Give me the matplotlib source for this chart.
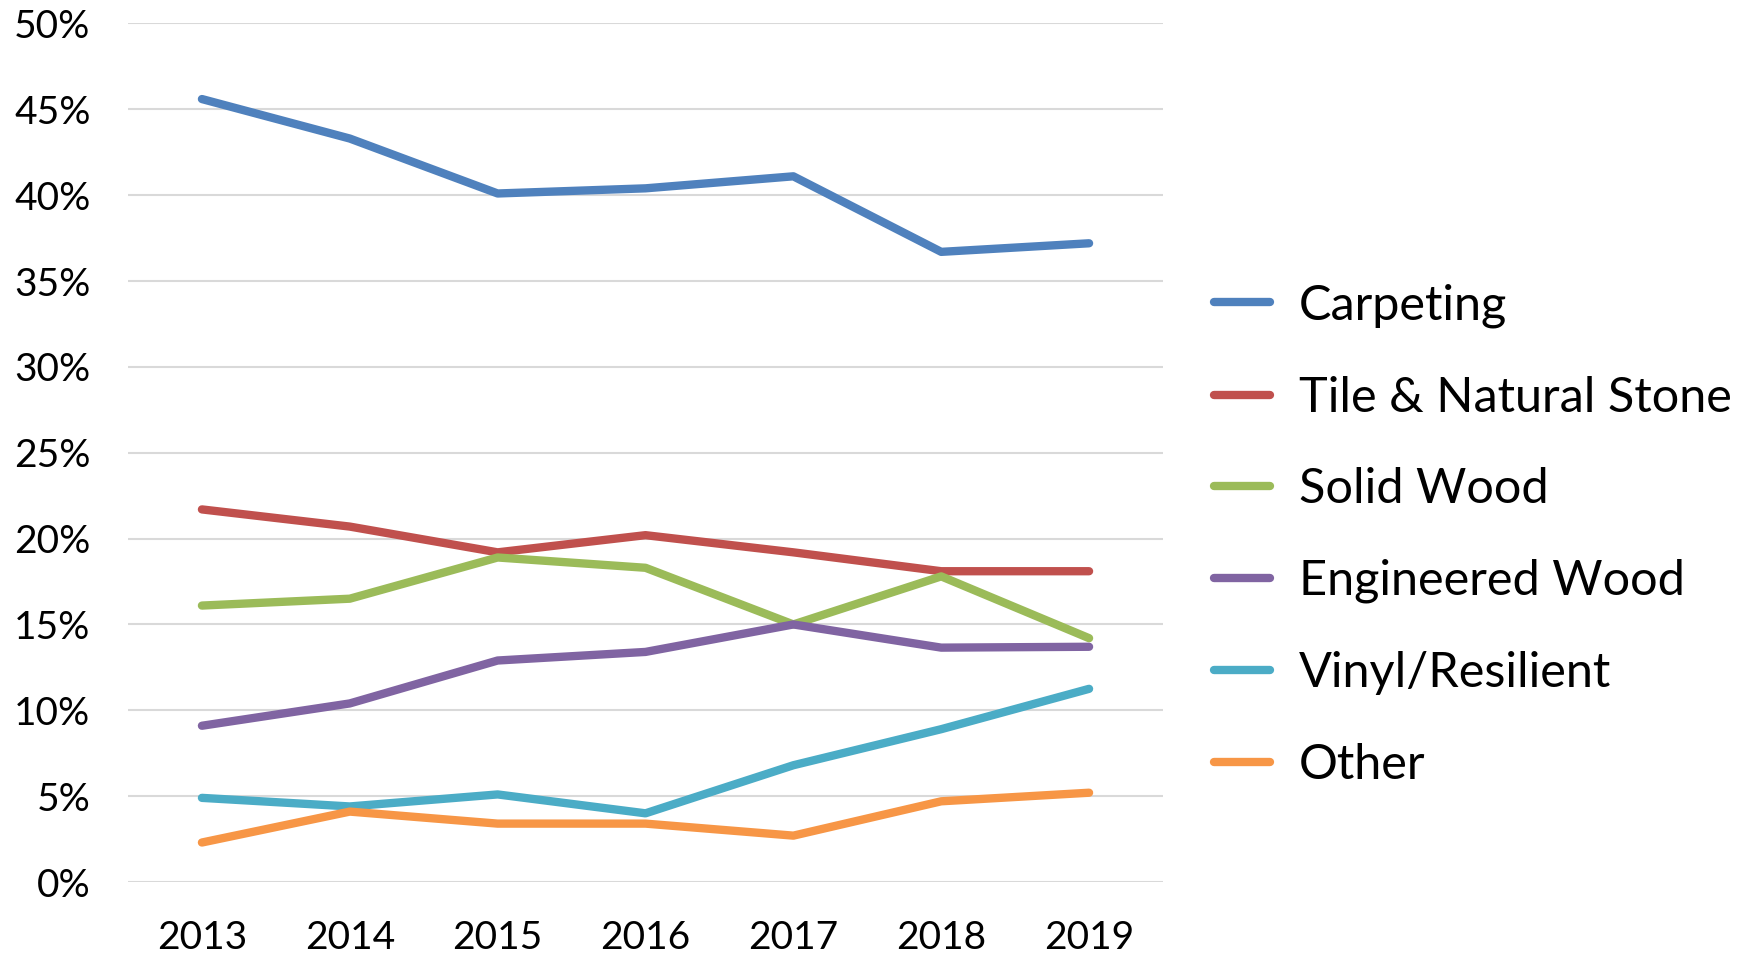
import matplotlib
matplotlib.use("Agg")
import matplotlib.pyplot as plt
from matplotlib.ticker import FuncFormatter

years = ["2013", "2014", "2015", "2016", "2017", "2018", "2019"]
carpeting = [45.6, 43.3, 40.1, 40.4, 41.1, 36.7, 37.2]
tile_stone = [21.7, 20.7, 19.2, 20.2, 19.2, 18.1, 18.1]
solid_wood = [16.1, 16.5, 18.9, 18.3, 15.0, 17.8, 14.2]
engineered_wood = [9.1, 10.4, 12.9, 13.4, 15.0, 13.65, 13.7]
vinyl_resilient = [4.9, 4.4, 5.1, 4.0, 6.8, 8.9, 11.25]
other = [2.3, 4.1, 3.4, 3.4, 2.7, 4.7, 5.2]

series_names = ["Carpeting", "Tile & Natural Stone", "Solid Wood",
                "Engineered Wood", "Vinyl/Resilient", "Other"]
series_values = [carpeting, tile_stone, solid_wood, engineered_wood,
                 vinyl_resilient, other]
colors = ["#4F81BD", "#C0504D", "#9BBB59", "#8064A2", "#4BACC6", "#F79646"]

plt.rcParams['font.family'] = ['Lato', 'DejaVu Sans']

fig = plt.figure(figsize=(17.5, 9.55), dpi=100)
ax = fig.add_axes([128 / 1750, 1 - 882 / 955, 1035 / 1750, (882 - 23.5) / 955])

x = list(range(len(years)))
for name, vals, c in zip(series_names, series_values, colors):
    ax.plot(x, vals, color=c, lw=6, label=name,
            solid_capstyle='round', solid_joinstyle='round')

ax.set_xlim(-0.5, len(years) - 0.5)
ax.set_ylim(0, 50)
ax.set_yticks(range(0, 51, 5))
ax.yaxis.set_major_formatter(FuncFormatter(lambda v, p: f"{int(v)}%"))
ax.set_xticks(x)
ax.set_xticklabels(years)
ax.grid(axis='y', color='#D9D9D9', lw=1.5)
ax.set_axisbelow(True)
for s in ax.spines.values():
    s.set_visible(False)
ax.tick_params(axis='both', length=0, labelsize=28, colors='black')
ax.tick_params(axis='x', pad=27)
ax.tick_params(axis='y', pad=27)

fig.legend(loc='center left', bbox_to_anchor=(1214 / 1750, 1 - 535 / 955),
           frameon=False, fontsize=35, handlelength=1.15, handletextpad=0.6,
           labelspacing=0.98, borderpad=0, borderaxespad=0)

fig.savefig("out.png", dpi=100)
